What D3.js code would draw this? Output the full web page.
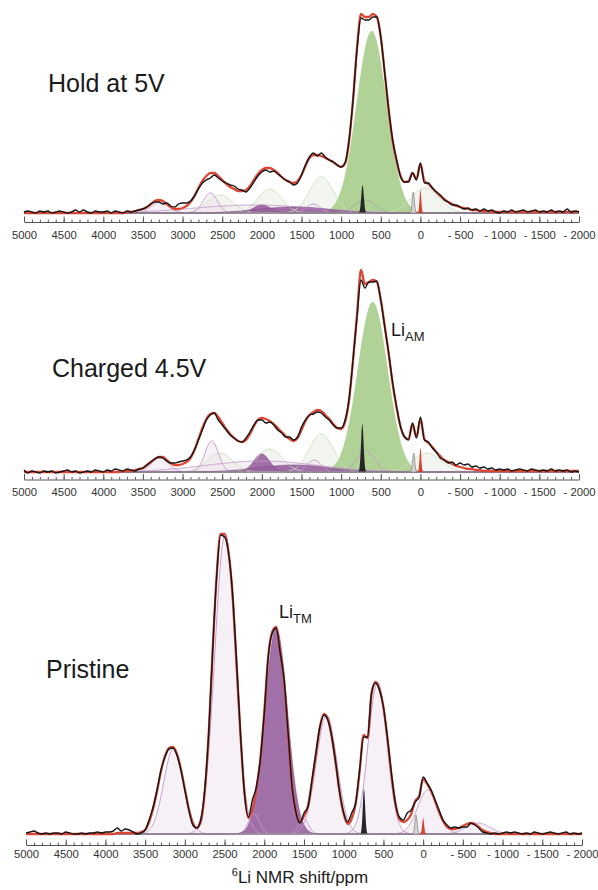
<!DOCTYPE html>
<html>
<head>
<meta charset="utf-8">
<script src="https://cdn.jsdelivr.net/npm/d3@7"></script>
<style>
  body { margin: 0; background: #fff; }
  svg { display: block; font-family: "Liberation Sans", Arial, sans-serif; }
</style>
</head>
<body>
<svg width="598" height="890"></svg>
<script>
'use strict';

// axis ticks (ppm) and their printed labels
const ppmTicks = [5000, 4500, 4000, 3500, 3000, 2500, 2000, 1500, 1000, 500, 0, -500, -1000, -1500, -2000];
const tickLabels = ["5000", "4500", "4000", "3500", "3000", "2500", "2000", "1500", "1000", "500", "0", "- 500", "- 1000", "- 1500", "- 2000"];
const titles = ["Hold at 5V", "Charged 4.5V", "Pristine"];

// measured spectra (black), read every 50 ppm from 5000 down to -2000
const hold5Spectrum = [
  1, 2, 1, 0, 2, 1, 2, 0, 1, 2,
  1, 0, 1, 3, 1, 3, 1, 0, 2, 1,
  1, 2, 0, 2, 1, 0, 2, 1, 2, 3,
  4, 6, 9, 11, 11, 9, 10, 7, 6, 9,
  10, 10, 12, 17, 24, 30, 33, 35, 38, 35,
  32, 30, 28, 27, 24, 23, 21, 25, 31, 37,
  41, 43, 41, 42, 39, 36, 33, 31, 28, 30,
  38, 48, 56, 60, 57, 60, 56, 53, 51, 48,
  46, 50, 73, 113, 163, 195, 193, 193, 196, 196,
  176, 140, 103, 73, 53, 36, 31, 31, 40, 33,
  50, 30, 30, 25, 21, 18, 13, 11, 8, 8,
  6, 4, 5, 3, 4, 2, 4, 2, 3, 1,
  0, 2, 1, 3, 1, 2, 3, 1, 2, 3,
  1, 2, 1, 3, 1, 2, 1, 4, 1, 2,
  1
];
const charged45Spectrum = [
  2, -1, 1, 0, -1, 1, 0, 1, -1, 0,
  1, 2, 0, 1, -1, 0, 1, 0, 2, 1,
  0, 2, 1, 3, 2, 1, 3, 2, 1, 3,
  4, 7, 10, 13, 15, 14, 11, 9, 9, 10,
  11, 12, 15, 22, 32, 42, 52, 57, 59, 52,
  47, 42, 37, 34, 31, 30, 34, 40, 47, 52,
  52, 49, 50, 47, 42, 39, 35, 35, 32, 35,
  45, 52, 57, 58, 60, 59, 55, 52, 47, 44,
  44, 52, 73, 112, 155, 192, 184, 190, 190, 191,
  172, 145, 119, 89, 65, 45, 35, 32, 49, 34,
  55, 32, 30, 24, 20, 14, 12, 9, 10, 7,
  9, 7, 8, 5, 6, 4, 5, 3, 4, 2,
  3, 2, 3, 1, 2, 3, 2, 1, 3, 2,
  1, 2, 1, 3, 1, 2, 1, 2, 0, 1,
  0
];
const pristineSpectrum = [
  1, 2, 3, 1, 0, 1, 0, 1, 1, 0,
  2, 1, 0, 0, 1, 0, 1, 1, 2, 1,
  2, 2, 3, 6, 3, 5, 4, 2, 0, 1,
  4, 14, 27, 44, 64, 77, 85, 86, 79, 64,
  44, 24, 9, 6, 14, 44, 101, 184, 257, 299,
  297, 281, 241, 174, 101, 41, 17, 34, 47, 74,
  121, 177, 201, 206, 181, 154, 101, 47, 21, 11,
  21, 27, 54, 81, 107, 119, 114, 97, 71, 41,
  21, 12, 21, 31, 64, 97, 97, 141, 151, 144,
  127, 97, 61, 31, 17, 14, 21, 24, 32, 37,
  57, 51, 44, 34, 24, 14, 9, 6, 7, 6,
  7, 7, 11, 9, 6, 2, 1, 0, 1, 0,
  1, 2, 1, 2, 1, 0, 1, 0, 2, 1,
  0, 1, 2, 1, 0, 1, 2, 0, 1, 0,
  1
];

// total fit (red), same 50 ppm grid
const hold5Fit = [
  0, 0, 0, 0, 0, 0, 0, 0, 0, 0,
  0, 0, 0, 0, 0, 0, 0, 0, 0, 0,
  0, 0, 0, 0, 0, 0, 1, 1, 2, 3,
  4, 6, 9, 12, 13, 12, 9, 6, 4, 4,
  5, 7, 11, 17, 25, 32, 37, 40, 40, 37,
  33, 29, 26, 24, 22, 22, 23, 27, 33, 39,
  43, 45, 45, 43, 40, 36, 33, 31, 30, 32,
  38, 47, 55, 58, 58, 57, 55, 53, 51, 48,
  46, 50, 72, 113, 165, 199, 196, 196, 199, 196,
  176, 140, 103, 72, 52, 37, 31, 32, 40, 34,
  49, 32, 29, 25, 21, 17, 14, 11, 9, 7,
  6, 5, 4, 3, 3, 2, 2, 2, 1, 1,
  1, 1, 1, 1, 1, 1, 1, 1, 1, 1,
  1, 1, 1, 1, 1, 1, 1, 1, 1, 1,
  1
];
const charged45Fit = [
  0, 0, 0, 0, 0, 0, 0, 0, 0, 0,
  0, 0, 0, 0, 0, 0, 0, 0, 0, 0,
  0, 0, 0, 0, 0, 1, 1, 1, 2, 3,
  4, 7, 10, 13, 15, 15, 12, 9, 7, 7,
  8, 10, 14, 22, 33, 44, 53, 58, 59, 55,
  49, 43, 38, 34, 31, 30, 32, 38, 46, 52,
  54, 53, 51, 48, 44, 40, 36, 33, 31, 34,
  42, 51, 57, 60, 62, 61, 57, 53, 48, 44,
  43, 50, 72, 112, 157, 202, 188, 190, 192, 190,
  172, 146, 118, 88, 64, 45, 35, 33, 48, 35,
  53, 33, 29, 25, 20, 16, 12, 10, 8, 6,
  5, 4, 3, 3, 2, 2, 1, 1, 1, 1,
  1, 1, 1, 1, 1, 1, 1, 1, 1, 1,
  1, 1, 1, 1, 1, 1, 1, 1, 1, 1,
  1
];
const pristineFit = [
  0, 0, 0, 0, 0, 0, 0, 0, 0, 0,
  0, 0, 0, 0, 0, 0, 0, 0, 0, 0,
  0, 0, 0, 1, 1, 1, 1, 1, 1, 2,
  4, 12, 25, 43, 63, 78, 86, 87, 80, 65,
  45, 25, 11, 6, 12, 42, 100, 183, 258, 300,
  300, 282, 240, 172, 100, 42, 16, 25, 45, 75,
  122, 178, 202, 207, 183, 153, 100, 48, 22, 12,
  18, 28, 52, 80, 107, 120, 115, 97, 70, 41,
  20, 10, 15, 30, 62, 99, 96, 140, 152, 145,
  127, 96, 60, 31, 15, 12, 14, 20, 33, 38,
  55, 50, 43, 33, 22, 13, 7, 5, 5, 6,
  8, 10, 11, 10, 7, 4, 2, 1, 0, 0,
  0, 0, 0, 0, 0, 0, 0, 0, 0, 0,
  0, 0, 0, 0, 0, 0, 0, 0, 0, 0,
  0
];

// fitted components: [type, centre ppm, height, width ppm]
const hold5Peaks = [
  ["lg", 2530, 18, 160], ["lg", 1900, 24, 150], ["lg", 1250, 36, 150], ["lg", -60, 25, 180],
  ["lav", 3280, 11, 110], ["lav", 2650, 20, 90], ["lav", 1350, 9, 90], ["lav", 2100, 8, 750],
  ["am", 615, 182, 190],
  ["tm", 2000, 8, 110], ["tm", 1600, 6, 450],
  ["gb", 700, 13, 130],
  ["dk", 730, 28, 16], ["gy", 90, 21, 13], ["rd", 0, 23, 11]
];
const charged45Peaks = [
  ["lg", 2530, 19, 160], ["lg", 1900, 23, 160], ["lg", 1250, 38, 150], ["lg", -80, 19, 180],
  ["lav", 3285, 14, 110], ["lav", 2633, 31, 85], ["lav", 1340, 12, 90], ["lav", 690, 21, 110], ["lav", 2000, 11, 700],
  ["am", 602, 170, 190],
  ["tm", 2003, 18, 100], ["tm", 1600, 7, 450],
  ["dk", 733, 48, 16], ["gy", 85, 19, 13], ["rd", 0, 24, 11]
];
const pristinePeaks = [
  ["lav", 3140, 86, 125], ["lav", 2494, 300, 128], ["lav", 2130, 20, 70], ["lav", 1500, 15, 60],
  ["lav", 1216, 119, 130], ["lav", 573, 152, 118], ["lav", -60, 44, 130], ["lav", -690, 11, 150],
  ["tm", 1850, 206, 140],
  ["dk", 745, 45, 15], ["gy", 90, 19, 14], ["rd", 0, 16, 12]
];

const svg = d3.select("svg");

const layout = [
  { spec: hold5Spectrum, fit: hold5Fit, peaks: hold5Peaks, x0: 24, x1: 579, base: 213, top: 200, axisY: 222, labelDy: 18, tx: 48, ty: 92 },
  { spec: charged45Spectrum, fit: charged45Fit, peaks: charged45Peaks, x0: 24, x1: 579, base: 472, top: 200, axisY: 479.5, labelDy: 17, tx: 52, ty: 377 },
  { spec: pristineSpectrum, fit: pristineFit, peaks: pristinePeaks, x0: 26, x1: 582, base: 834, top: 300, axisY: 845, labelDy: 13.5, tx: 46, ty: 678 }
];

const fills = { lg: "#e9ede4", lav: "#efe4f0", am: "#b0d296", tm: "#98609f", dk: "#262626", gy: "#d4d4d4", rd: "#d8432f" };
const strokes = { lg: "#cde2bf", lav: "#c49bcb", gb: "#a9a9a9", tm: "#7e4787", gy: "#8a8a8a" };

const grid = d3.range(5000, -2000.1, -4);
const minorTicks = d3.range(5000, -2000.1, -100);

layout.forEach((p, k) => {
  const x = d3.scaleLinear().domain([5000, -2000]).range([p.x0, p.x1]);
  const y = d3.scaleLinear().domain([0, p.top]).range([p.base, p.base - p.top]);
  const g = svg.append("g");

  const comps = p.peaks.map(([kind, c, h, w]) => ({
    kind,
    pts: grid.map(v => [v, h * Math.exp(-0.5 * ((v - c) / w) ** 2)])
  }));

  const area = d3.area().x(d => x(d[0])).y0(y(0)).y1(d => y(d[1]));
  const line = d3.line().x(d => x(d[0])).y(d => y(d[1]));

  // faint filled components
  comps.filter(c => c.kind === "lg" || c.kind === "lav").forEach(c => {
    g.append("path").attr("d", area(c.pts))
      .attr("fill", fills[c.kind]).attr("fill-opacity", 0.55);
  });
  // Li_AM and Li_TM fills
  comps.filter(c => c.kind === "am").forEach(c => {
    g.append("path").attr("d", area(c.pts)).attr("fill", fills.am);
  });
  comps.filter(c => c.kind === "tm").forEach(c => {
    g.append("path").attr("d", area(c.pts)).attr("fill", fills.tm).attr("fill-opacity", 0.9);
  });
  // outlines
  comps.filter(c => c.kind === "lg" || c.kind === "lav" || c.kind === "gb").forEach(c => {
    g.append("path").attr("d", line(c.pts))
      .attr("fill", "none").attr("stroke", strokes[c.kind]).attr("stroke-width", 1);
  });
  comps.filter(c => c.kind === "tm").forEach(c => {
    g.append("path").attr("d", line(c.pts))
      .attr("fill", "none").attr("stroke", strokes.tm).attr("stroke-width", 0.6);
  });
  // narrow peaks
  comps.filter(c => c.kind === "dk" || c.kind === "gy" || c.kind === "rd").forEach(c => {
    g.append("path").attr("d", area(c.pts))
      .attr("fill", fills[c.kind])
      .attr("stroke", c.kind === "gy" ? strokes.gy : "none").attr("stroke-width", 0.8);
  });

  const asPts = arr => arr.map((v, i) => [5000 - 50 * i, v]);
  const smooth = d3.line().x(d => x(d[0])).y(d => y(d[1])).curve(d3.curveMonotoneX);

  // total fit
  g.append("path").attr("d", smooth(asPts(p.fit)))
    .attr("fill", "none").attr("stroke", "#dc4634").attr("stroke-width", 2.3);

  // measured spectrum
  g.append("path").attr("d", smooth(asPts(p.spec)))
    .attr("fill", "none").attr("stroke", "#161616").attr("stroke-width", 1.4)
    .attr("stroke-linejoin", "round");

  // axis
  const ax = g.append("g").attr("transform", `translate(0,${p.axisY})`);
  ax.call(d3.axisTop(x).tickValues(minorTicks).tickSize(2.5).tickSizeOuter(0).tickFormat(""));
  ax.append("g").call(d3.axisTop(x).tickValues(ppmTicks).tickSize(5.5).tickFormat(""))
    .select(".domain").remove();
  ax.selectAll("line, path").attr("stroke", "#555").attr("stroke-width", 1);

  const lab = g.append("g").attr("transform", `translate(0,${p.axisY})`)
    .call(d3.axisBottom(x).tickValues(ppmTicks).tickSize(0).tickPadding(p.labelDy - 9)
      .tickFormat((d, i) => tickLabels[i]));
  lab.select(".domain").remove();
  lab.selectAll("text").attr("font-size", 11.3).attr("fill", "#333")
    .attr("font-family", "'Liberation Sans', Arial, sans-serif");

  g.append("text").attr("x", p.tx).attr("y", p.ty)
    .attr("font-size", 25).attr("fill", "#1a1a1a").text(titles[k]);
});

// site labels
const am = svg.append("text").attr("x", 391).attr("y", 336).attr("font-size", 18).attr("fill", "#1a1a1a");
am.append("tspan").text("Li");
am.append("tspan").attr("font-size", 13).attr("dy", 5).text("AM");

const tm = svg.append("text").attr("x", 279).attr("y", 618).attr("font-size", 18).attr("fill", "#1a1a1a");
tm.append("tspan").text("Li");
tm.append("tspan").attr("font-size", 13).attr("dy", 5).text("TM");

// x axis title
const xt = svg.append("text").attr("x", 300).attr("y", 883).attr("text-anchor", "middle")
  .attr("font-size", 17).attr("fill", "#1a1a1a");
xt.append("tspan").attr("font-size", 11).attr("dy", -7).text("6");
xt.append("tspan").attr("dy", 7).text("Li NMR shift/ppm");
</script>
</body>
</html>
